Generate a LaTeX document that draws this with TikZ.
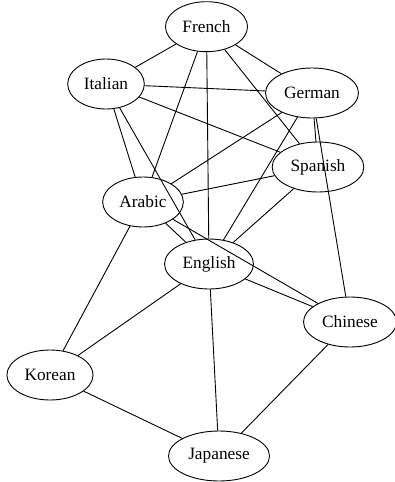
\documentclass[tikz,border=0pt]{standalone}
\usepackage{fontspec}
\setmainfont{Liberation Serif}
\usetikzlibrary{shapes.geometric}
\tikzset{lang/.style={ellipse, draw, line width=0.9pt, minimum height=50pt, inner xsep=5pt, inner ysep=0pt, font=\fontsize{17.3}{20}\selectfont}}
\begin{document}
\begin{tikzpicture}[x=1pt,y=-1pt,line width=0.9pt]
\useasboundingbox (0,0) rectangle (395,482);
\node[lang] (french) at (206.5,26.7) {French};
\node[lang] (italian) at (106,84) {Italian};
\node[lang] (german) at (312,93) {German};
\node[lang] (spanish) at (318,167) {Spanish};
\node[lang] (arabic) at (143,202) {Arabic};
\node[lang] (english) at (209,264) {English};
\node[lang] (chinese) at (350,322) {Chinese};
\node[lang] (korean) at (50,375) {Korean};
\node[lang] (japanese) at (219,456) {Japanese};

\foreach \a/\b in {french/italian,french/german,french/spanish,french/arabic,french/english,
  italian/german,italian/spanish,italian/arabic,italian/english,
  german/spanish,german/arabic,german/english,german/chinese,
  spanish/arabic,spanish/english,
  arabic/english,arabic/chinese,arabic/korean,
  english/chinese,english/korean,english/japanese,
  chinese/japanese,korean/japanese} {\draw (\a) -- (\b);}
\end{tikzpicture}
\end{document}
